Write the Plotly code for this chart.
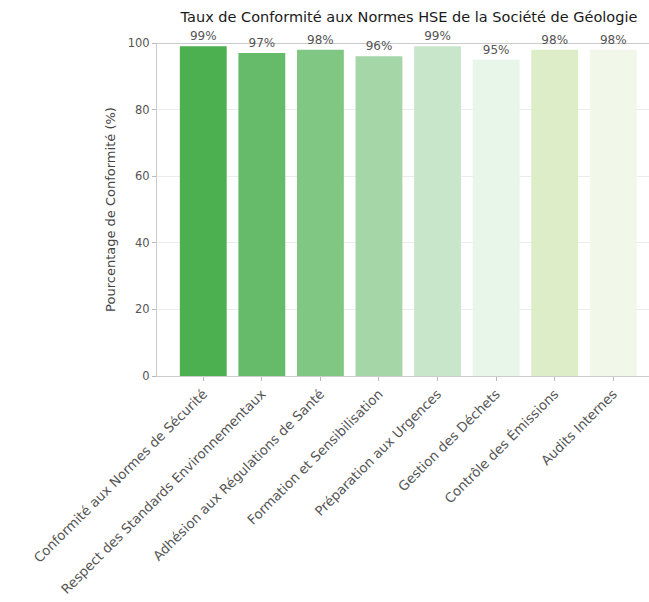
import plotly.graph_objects as go

categories = [
    "Conformité aux Normes de Sécurité",
    "Respect des Standards Environnementaux",
    "Adhésion aux Régulations de Santé",
    "Formation et Sensibilisation",
    "Préparation aux Urgences",
    "Gestion des Déchets",
    "Contrôle des Émissions",
    "Audits Internes",
]
compliance = [99, 97, 98, 96, 99, 95, 98, 98]
bar_colors = ["#4CAF50", "#66BB6A", "#81C784", "#A5D6A7",
              "#C8E6C9", "#E8F5E9", "#DCEDC8", "#F1F8E9"]
y_ticks = [0, 20, 40, 60, 80, 100]

FONT = "DejaVu Sans"
W, H = 649, 602

fig = go.Figure()
fig.add_trace(go.Bar(
    x=list(range(len(categories))),
    y=compliance,
    marker=dict(color=bar_colors, line=dict(width=0)),
    width=0.8,
    text=[f"{v}%" for v in compliance],
    textposition="outside",
    textfont=dict(family=FONT, size=12, color="#555555"),
    cliponaxis=False,
))

fig.update_layout(
    width=W, height=H,
    margin=dict(l=157, r=0, t=43, b=226),
    paper_bgcolor="white", plot_bgcolor="white",
    showlegend=False,
    bargap=0.2,
    uniformtext=dict(minsize=12, mode="show"),
    title=dict(
        text="Taux de Conformité aux Normes HSE de la Société de Géologie",
        font=dict(family=FONT, size=14.5, color="#1a1a1a"),
        x=409 / W, xref="container", xanchor="center",
        y=1 - 17 / H, yref="container", yanchor="middle",
    ),
    xaxis=dict(
        range=[-0.79, 7.61],
        tickmode="array",
        tickvals=list(range(len(categories))),
        ticktext=categories,
        tickangle=-45,
        tickfont=dict(family=FONT, size=13.3, color="#555555"),
        ticks="outside", ticklen=4, tickcolor="#bbbbbb",
        showline=True, linecolor="#cccccc", linewidth=1,
        showgrid=False, zeroline=False,
        automargin=False,
    ),
    yaxis=dict(
        range=[0, 100],
        tickvals=y_ticks,
        tickfont=dict(family=FONT, size=11.5, color="#555555"),
        ticks="outside", ticklen=4, tickcolor="#bbbbbb",
        showline=True, linecolor="#cccccc", linewidth=1,
        showgrid=True, gridcolor="#ececec", gridwidth=1,
        zeroline=False,
        title=dict(text="Pourcentage de Conformité (%)",
                   font=dict(family=FONT, size=13, color="#444444"),
                   standoff=9),
    ),
)

# darker upper frame line at the top of the value axis
fig.add_shape(type="line", xref="paper", yref="y", x0=0, x1=1, y0=100, y1=100,
              line=dict(color="#999999", width=1.2), layer="below")

fig.write_html("out.html")
